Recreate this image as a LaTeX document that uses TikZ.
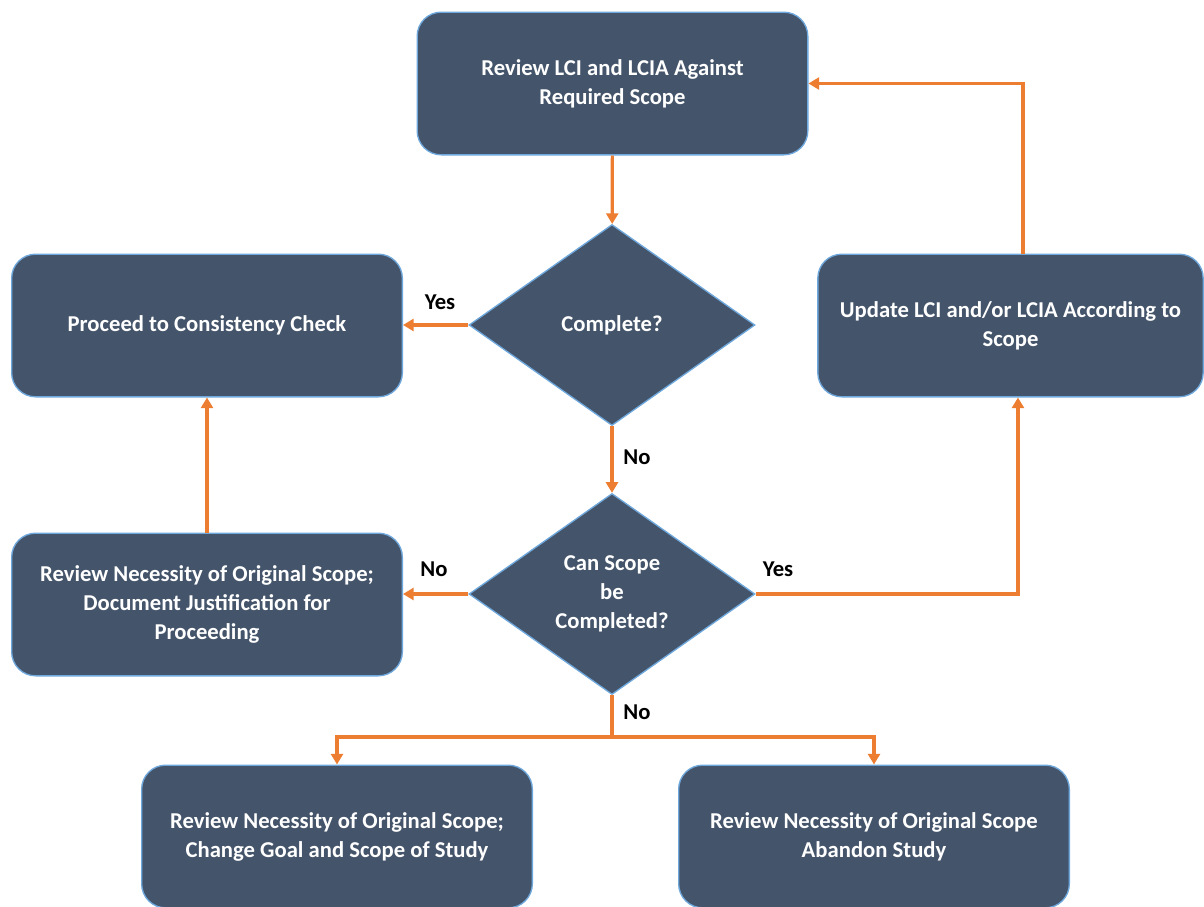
\documentclass[tikz,border=0pt]{standalone}
\usepackage{fontspec}
\setmainfont{Carlito}
\usetikzlibrary{arrows.meta,shapes.geometric}
\definecolor{boxfill}{HTML}{44546A}
\definecolor{boxline}{HTML}{6FA8DC}
\definecolor{arr}{HTML}{ED7D31}
\begin{document}
\begin{tikzpicture}[x=0.75pt,y=-0.75pt,
  box/.style={draw=boxline,line width=1pt,fill=boxfill,rounded corners=18pt,
    minimum width=293pt,minimum height=107pt,text=white,align=center,
    font=\fontsize{17}{21.75}\selectfont\bfseries,inner sep=0pt},
  dec/.style={diamond,draw=boxline,line width=1pt,fill=boxfill,aspect=1.42,
    minimum width=214.5pt,minimum height=150.75pt,inner sep=0pt,text=white,align=center,
    font=\fontsize{17}{21.75}\selectfont\bfseries},
  flow/.style={draw=arr,line width=2.4pt,-{Triangle[length=8pt,width=9pt]}},
  lbl/.style={font=\fontsize{17}{20}\selectfont\bfseries,text=black,inner sep=0pt}]
\useasboundingbox (0,0) rectangle (1204,907);
\node[box] (top) at (612.5,83.5) {Review LCI and LCIA Against\\Required Scope};
\node[box] (left1) at (207,325.5) {Proceed to Consistency Check};
\node[box,minimum width=289pt] (right) at (1010.5,325.5) {Update LCI and/or LCIA According to\\Scope};
\node[box] (left2) at (207,604.5) {Review Necessity of Original Scope;\\Document Justification for\\Proceeding};
\node[box] (bl) at (337,836.5) {Review Necessity of Original Scope;\\Change Goal and Scope of Study};
\node[box] (br) at (874,836.5) {Review Necessity of Original Scope\\Abandon Study};
\node[dec] (d1) at (612,325) {Complete?};
\node[dec] (d2) at (612,594) {Can Scope\\be\\Completed?};
\coordinate (split) at (612,737);
\draw[flow] (top) -- (d1);
\draw[flow] (d1.west) -- (d1.west -| left1.east);
\draw[flow] (d1) -- (d2);
\draw[flow] (d2.east) -| ([xshift=5.6pt]right.south);
\draw[flow] ([xshift=9.4pt]right.north) |- (top.east);
\draw[flow] (d2.west) -- (d2.west -| left2.east);
\draw[flow] (left2) -- (left1);
\draw[draw=arr,line width=2.4pt] (d2.south) -- (split);
\draw[flow] (split) -| (bl.north);
\draw[flow] (split) -| (br.north);
\node[lbl] (yes1) at (440,302) {Yes};
\node[lbl] (no1) at (637,457) {No};
\node[lbl] (yes2) at (778,569) {Yes};
\node[lbl] (no2) at (434,569) {No};
\node[lbl] (no3) at (637,712) {No};
\end{tikzpicture}
\end{document}
